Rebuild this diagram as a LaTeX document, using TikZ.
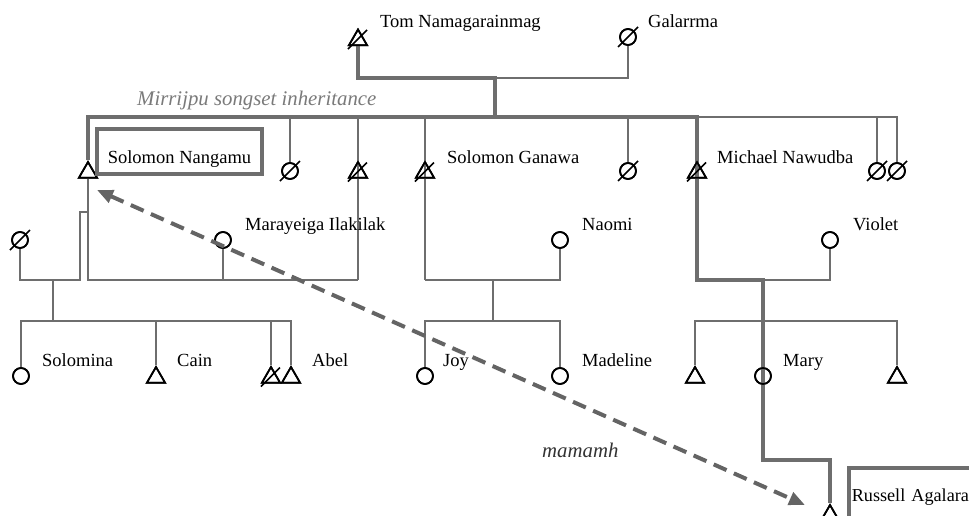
\documentclass[tikz,border=0pt]{standalone}
\usepackage{fontspec}
\setmainfont{Liberation Serif}
\usetikzlibrary{shapes.geometric,arrows.meta}
\definecolor{linegray}{HTML}{6E6E6E}
\definecolor{dashgray}{HTML}{646464}
\definecolor{italgray}{HTML}{7A7A7A}
\definecolor{darkital}{HTML}{333333}
\newcommand\mydslash[1]{\draw[slashline] (#1.center) ++(-10,9) -- ++(19,-19);}
\newcommand\myoslash[1]{\draw[slashline] (#1.center) ++(-10,10) -- ++(20,-20);}
\begin{document}
\begin{tikzpicture}[x=1pt,y=-1pt,
  male/.style={regular polygon,regular polygon sides=3,minimum size=21pt,inner sep=0pt,draw=black,line width=1.7pt},
  female/.style={circle,minimum size=16pt,inner sep=0pt,draw=black,line width=1.7pt},
  slashline/.style={draw=black,line width=1.7pt},
  thinl/.style={draw=linegray,line width=2.2pt},
  medl/.style={draw=linegray,line width=2.6pt},
  heavy/.style={draw=linegray,line width=4pt},
  lbl/.style={anchor=base west,inner sep=0pt,font=\fontsize{18.5pt}{22pt}\selectfont},
  ital/.style={anchor=base west,inner sep=0pt,font=\fontsize{20.8pt}{24pt}\selectfont\itshape},
  namebox/.style={draw=linegray,line width=3.5pt,inner sep=0pt,font=\fontsize{18.5pt}{22pt}\selectfont},
  dasharrow/.style={draw=dashgray,line width=4pt,dash pattern=on 14pt off 8pt,
    {Triangle[length=16pt,width=13pt]}-{Triangle[length=16pt,width=13pt]}}
]
\useasboundingbox (0,0) rectangle (969,515);
\fill[white] (0,0) rectangle (969,515);
\clip (0,0) rectangle (969,515);

% level coordinates
\coordinate (jTop) at (495,78);
\coordinate (jSib) at (495,117);
\coordinate (ySib) at (0,117);
\coordinate (yMar) at (0,280);
\coordinate (yKid) at (0,321);
\coordinate (yRus) at (0,460);
\coordinate (lh) at (80,212);
\coordinate (lc) at (53,280);
\coordinate (gc) at (493,280);

% symbols (positions)
\path
  (358,40) node[male] (tom) {}
  (628,37) node[female] (gal) {}
  (88,172.5) node[male] (sn) {}
  (290,171) node[female] (s2) {}
  (358,172.5) node[male] (s3) {}
  (425,172.5) node[male] (sg) {}
  (628,171) node[female] (s5) {}
  (697,172.5) node[male] (mn) {}
  (877,171) node[female] (s7) {}
  (897,171) node[female] (s8) {}
  (20,240) node[female] (lw) {}
  (223,240) node[female] (mar) {}
  (560,240) node[female] (nao) {}
  (830,240) node[female] (vio) {}
  (21,376) node[female] (solomina) {}
  (156,377.5) node[male] (cain) {}
  (271,377.5) node[male] (c3) {}
  (291,377.5) node[male] (abel) {}
  (425,376) node[female] (joy) {}
  (560,376) node[female] (madeline) {}
  (695,377.5) node[male] (m1) {}
  (763,376) node[female] (mary) {}
  (897,377.5) node[male] (m3) {}
  (830,515.5) node[male] (russell) {};

% connectors
\draw[medl] (gal.south) |- (jTop);
\draw[heavy] (tom.south) |- (jTop) -- (jSib);
\draw[thinl] (mn |- ySib) -| (s8.north);
\draw[thinl] (s7 |- ySib) -- (s7.north);
\draw[thinl] (s2 |- ySib) -- (s2.north);
\draw[thinl] (s5 |- ySib) -- (s5.north);
\draw[medl] (s3 |- ySib) -- (s3 |- yMar);
\draw[medl] (sg |- ySib) -- (sg |- yMar);
\draw[heavy] (sn.north) |- (jSib) -| (mn.north);

% Solomon Nangamu families
\draw[thinl] (sn.south) |- (s3 |- yMar);
\draw[thinl] (mar.south) -- (mar |- yMar);
\draw[thinl] (sn |- lh) -- (lh) |- (lw |- yMar) -- (lw.south);
\draw[thinl] (lc) -- (lc |- yKid);
\draw[thinl] (solomina.north) |- (abel |- yKid) -- (abel.north);
\draw[thinl] (cain |- yKid) -- (cain.north);
\draw[thinl] (c3 |- yKid) -- (c3.north);

% Solomon Ganawa family
\draw[thinl] (sg |- yMar) -| (nao.south);
\draw[thinl] (gc) -- (gc |- yKid);
\draw[thinl] (joy.north) |- (madeline |- yKid) -- (madeline.north);

% Michael Nawudba family
\draw[thinl] (mary |- yMar) -| (vio.south);
\draw[thinl] (m1.north) |- (m3 |- yKid) -- (m3.north);
\draw[heavy] (mn.north) -- (mn |- yMar) -- (mary |- yMar) -- (mary |- yRus) -| (russell.north);

% redraw symbols on top (outlines)
\foreach \n in {tom,sn,s3,sg,mn,cain,c3,abel,m1,m3,russell}{\node[male] at (\n) {};}
\foreach \n in {gal,s2,s5,s7,s8,lw,mar,nao,vio,solomina,joy,madeline,mary}{\node[female] at (\n) {};}

% deceased marks
\mydslash{tom}\mydslash{s3}\mydslash{sg}\mydslash{mn}\mydslash{c3}
\myoslash{gal}\myoslash{s2}\myoslash{s5}\myoslash{s7}\myoslash{s8}\myoslash{lw}

% boxes
\node[namebox,anchor=base,text height=34pt,text depth=11pt,minimum width=165pt] (snbox) at (179.5,163) {Solomon Nangamu};
\node[namebox,anchor=base west,text height=33pt,text depth=30pt,text width=135pt,inner xsep=3pt,align=left,font=\fontsize{18.2pt}{22pt}\selectfont] (rbox) at (847,501) {Russell Agalara};

% labels
\node[lbl] (tTom) at (380,27) {Tom Namagarainmag};
\node[lbl] (tGal) at (648,27) {Galarrma};
\node[lbl] (tSG) at (447,163) {Solomon Ganawa};
\node[lbl] (tMN) at (717,163) {Michael Nawudba};
\node[lbl] (tMar) at (245,230) {Marayeiga Ilakilak};
\node[lbl] (tNao) at (582,230) {Naomi};
\node[lbl] (tVio) at (853,230) {Violet};
\node[lbl] (tSol) at (42,366) {Solomina};
\node[lbl] (tCain) at (177,366) {Cain};
\node[lbl] (tAbel) at (312,366) {Abel};
\node[lbl] (tJoy) at (443,366) {Joy};
\node[lbl] (tMad) at (582,366) {Madeline};
\node[lbl] (tMary) at (783,366) {Mary};
\node[ital,text=italgray] (tMir) at (137,105) {Mirrijpu songset inheritance};
\node[ital,text=darkital] (tMam) at (542,457) {mamamh};

% mamamh relation arrow
\coordinate (aS) at (97,190);
\coordinate (aE) at (805,505);
\draw[dasharrow] (aS) -- (aE);
\end{tikzpicture}
\end{document}
